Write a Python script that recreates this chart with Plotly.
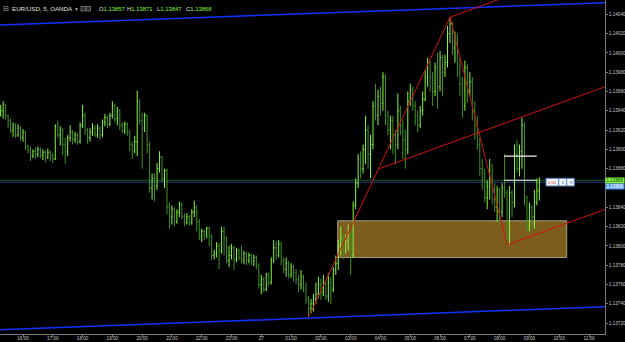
import pandas as pd
import plotly.graph_objects as go

# ---------------- data (EUR/USD, 5 min, OANDA) ----------------
times = pd.date_range("2015-05-26 15:15", periods=218, freq="5min")

opens = [
    1.13936, 1.13940, 1.13946, 1.13935, 1.13930, 1.13920, 1.13925, 1.13915, 1.13922, 1.13912,
    1.13918, 1.13903, 1.13899, 1.13893, 1.13898, 1.13895, 1.13900, 1.13894, 1.13897, 1.13892,
    1.13897, 1.13894, 1.13890, 1.13924, 1.13915, 1.13920, 1.13905, 1.13898, 1.13912, 1.13918,
    1.13910, 1.13915, 1.13908, 1.13925, 1.13935, 1.13920, 1.13912, 1.13918, 1.13922, 1.13915,
    1.13922, 1.13915, 1.13928, 1.13933, 1.13926, 1.13935, 1.13945, 1.13932, 1.13940, 1.13925,
    1.13920, 1.13926, 1.13918, 1.13905, 1.13898, 1.13908, 1.13950, 1.13930, 1.13922, 1.13935,
    1.13905, 1.13860, 1.13870, 1.13862, 1.13880, 1.13892, 1.13870, 1.13878, 1.13840, 1.13830,
    1.13838, 1.13825, 1.13835, 1.13843, 1.13830, 1.13824, 1.13830, 1.13824, 1.13835, 1.13840,
    1.13825, 1.13810, 1.13815, 1.13812, 1.13818, 1.13810, 1.13790, 1.13792, 1.13800, 1.13795,
    1.13815, 1.13808, 1.13785, 1.13790, 1.13798, 1.13786, 1.13795, 1.13788, 1.13785, 1.13792,
    1.13785, 1.13790, 1.13784, 1.13788, 1.13780, 1.13760, 1.13765, 1.13755, 1.13770, 1.13762,
    1.13785, 1.13798, 1.13790, 1.13802, 1.13785, 1.13776, 1.13782, 1.13770, 1.13778, 1.13772,
    1.13765, 1.13760, 1.13768, 1.13755, 1.13745, 1.13735, 1.13740, 1.13745, 1.13750, 1.13760,
    1.13752, 1.13760, 1.13748, 1.13762, 1.13755, 1.13775, 1.13782, 1.13800, 1.13808, 1.13795,
    1.13805, 1.13812, 1.13790, 1.13842, 1.13865, 1.13890, 1.13880, 1.13900, 1.13920, 1.13895,
    1.13905, 1.13945, 1.13935, 1.13955, 1.13948, 1.13975, 1.13935, 1.13920, 1.13930, 1.13915,
    1.13905, 1.13940, 1.13925, 1.13910, 1.13900, 1.13950, 1.13962, 1.13945, 1.13935, 1.13925,
    1.13940, 1.13952, 1.13975, 1.13990, 1.13975, 1.13960, 1.13985, 1.13965, 1.13995, 1.13980,
    1.13990, 1.14020, 1.14030, 1.14005, 1.14015, 1.13985, 1.13968, 1.13945, 1.13985, 1.13960,
    1.13970, 1.13940, 1.13925, 1.13905, 1.13880, 1.13875, 1.13850, 1.13862, 1.13870, 1.13848,
    1.13840, 1.13858, 1.13835, 1.13860, 1.13855, 1.13808, 1.13855, 1.13845, 1.13895, 1.13880,
    1.13898, 1.13925, 1.13850, 1.13820, 1.13840, 1.13830, 1.13845, 1.13857,
]

highs = [
    1.13946, 1.13950, 1.13947, 1.13936, 1.13932, 1.13928, 1.13927, 1.13926, 1.13924, 1.13921,
    1.13919, 1.13905, 1.13903, 1.13900, 1.13902, 1.13903, 1.13902, 1.13900, 1.13899, 1.13901,
    1.13899, 1.13896, 1.13926, 1.13930, 1.13924, 1.13922, 1.13912, 1.13915, 1.13925, 1.13920,
    1.13918, 1.13917, 1.13928, 1.13946, 1.13938, 1.13922, 1.13922, 1.13927, 1.13925, 1.13926,
    1.13924, 1.13931, 1.13937, 1.13935, 1.13938, 1.13950, 1.13947, 1.13944, 1.13942, 1.13928,
    1.13929, 1.13928, 1.13920, 1.13908, 1.13914, 1.13961, 1.13952, 1.13938, 1.13938, 1.13936,
    1.13908, 1.13875, 1.13875, 1.13886, 1.13898, 1.13893, 1.13880, 1.13880, 1.13845, 1.13842,
    1.13840, 1.13838, 1.13846, 1.13845, 1.13834, 1.13834, 1.13832, 1.13838, 1.13847, 1.13842,
    1.13828, 1.13818, 1.13817, 1.13820, 1.13820, 1.13812, 1.13796, 1.13804, 1.13803, 1.13820,
    1.13820, 1.13810, 1.13800, 1.13802, 1.13800, 1.13798, 1.13797, 1.13800, 1.13795, 1.13794,
    1.13793, 1.13792, 1.13791, 1.13790, 1.13782, 1.13770, 1.13768, 1.13772, 1.13772, 1.13788,
    1.13806, 1.13805, 1.13806, 1.13804, 1.13788, 1.13788, 1.13784, 1.13782, 1.13780, 1.13776,
    1.13770, 1.13775, 1.13770, 1.13762, 1.13748, 1.13745, 1.13750, 1.13762, 1.13768, 1.13766,
    1.13770, 1.13765, 1.13772, 1.13768, 1.13778, 1.13790, 1.13806, 1.13820, 1.13812, 1.13812,
    1.13822, 1.13815, 1.13846, 1.13870, 1.13895, 1.13898, 1.13905, 1.13935, 1.13925, 1.13915,
    1.13950, 1.13968, 1.13962, 1.13965, 1.13980, 1.13978, 1.13940, 1.13935, 1.13935, 1.13920,
    1.13958, 1.13945, 1.13930, 1.13920, 1.13960, 1.13968, 1.13965, 1.13950, 1.13940, 1.13945,
    1.13960, 1.13982, 1.13995, 1.13992, 1.13980, 1.13990, 1.14000, 1.14002, 1.13998, 1.13998,
    1.14028, 1.14037, 1.14032, 1.14022, 1.14020, 1.13995, 1.13975, 1.13992, 1.13988, 1.13980,
    1.13975, 1.13950, 1.13935, 1.13912, 1.13890, 1.13880, 1.13868, 1.13890, 1.13885, 1.13865,
    1.13862, 1.13860, 1.13865, 1.13895, 1.13858, 1.13862, 1.13858, 1.13905, 1.13910, 1.13905,
    1.13933, 1.13928, 1.13852, 1.13845, 1.13842, 1.13858, 1.13870, 1.13871,
]

lows = [
    1.13934, 1.13932, 1.13931, 1.13922, 1.13917, 1.13913, 1.13912, 1.13913, 1.13909, 1.13908,
    1.13899, 1.13896, 1.13888, 1.13891, 1.13890, 1.13892, 1.13891, 1.13889, 1.13887, 1.13890,
    1.13888, 1.13886, 1.13889, 1.13912, 1.13904, 1.13894, 1.13885, 1.13893, 1.13908, 1.13905,
    1.13907, 1.13905, 1.13906, 1.13922, 1.13915, 1.13906, 1.13908, 1.13914, 1.13913, 1.13912,
    1.13910, 1.13913, 1.13924, 1.13922, 1.13924, 1.13932, 1.13928, 1.13925, 1.13920, 1.13917,
    1.13916, 1.13914, 1.13898, 1.13890, 1.13896, 1.13893, 1.13926, 1.13880, 1.13918, 1.13896,
    1.13855, 1.13848, 1.13846, 1.13858, 1.13876, 1.13866, 1.13860, 1.13833, 1.13818, 1.13822,
    1.13820, 1.13823, 1.13830, 1.13828, 1.13820, 1.13822, 1.13821, 1.13822, 1.13830, 1.13815,
    1.13806, 1.13804, 1.13806, 1.13808, 1.13800, 1.13785, 1.13786, 1.13788, 1.13776, 1.13792,
    1.13790, 1.13782, 1.13778, 1.13786, 1.13775, 1.13783, 1.13785, 1.13782, 1.13781, 1.13780,
    1.13782, 1.13780, 1.13779, 1.13776, 1.13756, 1.13750, 1.13752, 1.13753, 1.13758, 1.13760,
    1.13782, 1.13786, 1.13788, 1.13780, 1.13772, 1.13768, 1.13766, 1.13767, 1.13763, 1.13760,
    1.13752, 1.13755, 1.13752, 1.13740, 1.13726, 1.13730, 1.13732, 1.13740, 1.13746, 1.13744,
    1.13748, 1.13744, 1.13742, 1.13740, 1.13752, 1.13770, 1.13775, 1.13790, 1.13786, 1.13792,
    1.13795, 1.13770, 1.13788, 1.13838, 1.13860, 1.13870, 1.13875, 1.13885, 1.13880, 1.13870,
    1.13900, 1.13930, 1.13925, 1.13935, 1.13940, 1.13925, 1.13915, 1.13900, 1.13895, 1.13885,
    1.13900, 1.13915, 1.13890, 1.13880, 1.13895, 1.13945, 1.13940, 1.13925, 1.13918, 1.13922,
    1.13935, 1.13950, 1.13965, 1.13960, 1.13945, 1.13955, 1.13942, 1.13960, 1.13955, 1.13975,
    1.13985, 1.14010, 1.13998, 1.13990, 1.13975, 1.13955, 1.13933, 1.13940, 1.13948, 1.13955,
    1.13930, 1.13910, 1.13900, 1.13872, 1.13858, 1.13845, 1.13838, 1.13848, 1.13843, 1.13835,
    1.13825, 1.13822, 1.13830, 1.13850, 1.13801, 1.13801, 1.13830, 1.13840, 1.13876, 1.13872,
    1.13880, 1.13842, 1.13815, 1.13815, 1.13815, 1.13818, 1.13842, 1.13847,
]

closes = [
    1.13940, 1.13946, 1.13935, 1.13930, 1.13920, 1.13925, 1.13915, 1.13922, 1.13912, 1.13918,
    1.13903, 1.13899, 1.13893, 1.13898, 1.13895, 1.13900, 1.13894, 1.13897, 1.13892, 1.13897,
    1.13894, 1.13890, 1.13924, 1.13915, 1.13920, 1.13905, 1.13898, 1.13912, 1.13918, 1.13910,
    1.13915, 1.13908, 1.13925, 1.13935, 1.13920, 1.13912, 1.13918, 1.13922, 1.13915, 1.13922,
    1.13915, 1.13928, 1.13933, 1.13926, 1.13935, 1.13945, 1.13932, 1.13940, 1.13925, 1.13920,
    1.13926, 1.13918, 1.13905, 1.13898, 1.13908, 1.13950, 1.13930, 1.13922, 1.13935, 1.13905,
    1.13860, 1.13870, 1.13862, 1.13880, 1.13892, 1.13870, 1.13878, 1.13840, 1.13830, 1.13838,
    1.13825, 1.13835, 1.13843, 1.13830, 1.13824, 1.13830, 1.13824, 1.13835, 1.13840, 1.13825,
    1.13810, 1.13815, 1.13812, 1.13818, 1.13810, 1.13790, 1.13792, 1.13800, 1.13795, 1.13815,
    1.13808, 1.13785, 1.13790, 1.13798, 1.13786, 1.13795, 1.13788, 1.13785, 1.13792, 1.13785,
    1.13790, 1.13784, 1.13788, 1.13780, 1.13760, 1.13765, 1.13755, 1.13770, 1.13762, 1.13785,
    1.13798, 1.13790, 1.13802, 1.13785, 1.13776, 1.13782, 1.13770, 1.13778, 1.13772, 1.13765,
    1.13760, 1.13768, 1.13755, 1.13745, 1.13735, 1.13740, 1.13745, 1.13750, 1.13760, 1.13752,
    1.13760, 1.13748, 1.13762, 1.13755, 1.13775, 1.13782, 1.13800, 1.13808, 1.13795, 1.13805,
    1.13812, 1.13790, 1.13842, 1.13865, 1.13890, 1.13880, 1.13900, 1.13920, 1.13895, 1.13905,
    1.13945, 1.13935, 1.13955, 1.13948, 1.13975, 1.13935, 1.13920, 1.13930, 1.13915, 1.13905,
    1.13940, 1.13925, 1.13910, 1.13900, 1.13950, 1.13962, 1.13945, 1.13935, 1.13925, 1.13940,
    1.13952, 1.13975, 1.13990, 1.13975, 1.13960, 1.13985, 1.13965, 1.13995, 1.13980, 1.13990,
    1.14020, 1.14030, 1.14005, 1.14015, 1.13985, 1.13968, 1.13945, 1.13985, 1.13960, 1.13970,
    1.13940, 1.13925, 1.13905, 1.13880, 1.13875, 1.13850, 1.13862, 1.13870, 1.13848, 1.13840,
    1.13858, 1.13835, 1.13860, 1.13855, 1.13808, 1.13855, 1.13845, 1.13895, 1.13880, 1.13898,
    1.13925, 1.13850, 1.13820, 1.13840, 1.13830, 1.13845, 1.13857, 1.13868,
]

x_tick_vals = list(pd.date_range("2015-05-26 16:00", "2015-05-27 11:00", freq="h"))
x_tick_text = ["16:00", "17:00", "18:00", "19:00", "20:00", "21:00", "22:00", "23:00",
               "27", "01:00", "02:00", "03:00", "04:00", "05:00", "06:00", "07:00",
               "08:00", "09:00", "10:00", "11:00"]
y_tick_vals = [1.13720, 1.13740, 1.13760, 1.13780, 1.13800, 1.13820, 1.13840,
               1.13880, 1.13900, 1.13920, 1.13940, 1.13960, 1.13980, 1.14000,
               1.14020, 1.14040]
y_tick_text = [f"{v:.5f}" for v in y_tick_vals]

header_symbol = "EUR/USD, 5, OANDA"
header_ohlc = [("O", "1.13857"), ("H", "1.13871"), ("L", "1.13847"), ("C", "1.13868")]
last_price = "1.13868"
ask_price = "1.13866"

# drawing-tool anchors (time, price)
X_START = pd.Timestamp("2015-05-26 15:13:40")
X_END = pd.Timestamp("2015-05-27 11:32:13")
zz_low1 = (pd.Timestamp("2015-05-27 01:35"), 1.13726)
zz_high = (pd.Timestamp("2015-05-27 06:20"), 1.14037)
zz_low2 = (pd.Timestamp("2015-05-27 08:15"), 1.13801)
fork_mid = (pd.Timestamp("2015-05-27 03:57:36"), 1.13880)
fork_slope = 0.000112  # price per hour
zone = (pd.Timestamp("2015-05-27 02:33:50"), pd.Timestamp("2015-05-27 10:15:04"), 1.13788, 1.13826)
chan_top = (1.14029, 1.14052)
chan_bot = (1.13713, 1.13737)

# ---------------- figure ----------------
W, H = 625, 342
PL, PR, PT, PB = 0, 605, 0, 334


def px(x):
    return (x - PL) / (PR - PL)


def py(y):
    return 1 - (y - PT) / (PB - PT)


def ext(pt):
    hrs = (X_END - pt[0]).total_seconds() / 3600
    return pt[1] + fork_slope * hrs


fig = go.Figure()
fig.add_trace(go.Ohlc(
    x=times, open=opens, high=highs, low=lows, close=closes,
    increasing=dict(line=dict(color="#86f73c", width=1)),
    decreasing=dict(line=dict(color="#3f9222", width=1)),
    tickwidth=0.35, hoverinfo="skip", showlegend=False,
))

shapes = []
# demand zone
shapes.append(dict(type="rect", xref="x", yref="y", x0=zone[0], x1=zone[1], y0=zone[2], y1=zone[3],
                   fillcolor="#7c5d1e", line=dict(color="#a59f86", width=1), layer="below"))
# current price lines
shapes.append(dict(type="line", xref="paper", yref="y", x0=0, x1=1, y0=1.13868, y1=1.13868,
                   line=dict(color="#23522a", width=1), layer="below"))
shapes.append(dict(type="line", xref="paper", yref="y", x0=0, x1=1, y0=1.13866, y1=1.13866,
                   line=dict(color="#22407e", width=1), layer="below"))
# blue channel
shapes.append(dict(type="line", xref="x", yref="y", x0=X_START, x1=X_END, y0=chan_top[0], y1=chan_top[1],
                   line=dict(color="#1432ff", width=1.5)))
shapes.append(dict(type="line", xref="x", yref="y", x0=X_START, x1=X_END, y0=chan_bot[0], y1=chan_bot[1],
                   line=dict(color="#1432ff", width=1.5)))
# red zigzag + pitchfork
red = dict(color="#d01212", width=1)
shapes.append(dict(type="line", xref="x", yref="y", x0=zz_low1[0], y0=zz_low1[1], x1=zz_high[0], y1=zz_high[1], line=red))
shapes.append(dict(type="line", xref="x", yref="y", x0=zz_high[0], y0=zz_high[1], x1=zz_low2[0], y1=zz_low2[1], line=red))
for pt in (zz_high, fork_mid, zz_low2):
    shapes.append(dict(type="line", xref="x", yref="y", x0=pt[0], y0=pt[1], x1=X_END, y1=ext(pt), line=red))
# white measure lines
for lvl in (1.13893, 1.13868):
    shapes.append(dict(type="line", xref="x", yref="y", x0=pd.Timestamp("2015-05-27 08:09:25"),
                       x1=pd.Timestamp("2015-05-27 09:14:35"), y0=lvl, y1=lvl,
                       line=dict(color="#f2f2f2", width=1.2)))
# small tool box
shapes.append(dict(type="rect", xref="paper", yref="paper", x0=px(546), x1=px(574.3), y0=py(186), y1=py(178.3),
                   fillcolor="#f4f6fa", line=dict(color="#4a7cc0", width=1)))
for xd in (558.7, 566.7):
    shapes.append(dict(type="line", xref="paper", yref="paper", x0=px(xd), x1=px(xd), y0=py(186), y1=py(178.3),
                       line=dict(color="#4a7cc0", width=1)))
# header icons
for x0 in (81, 86):
    shapes.append(dict(type="rect", xref="paper", yref="paper", x0=px(x0), x1=px(x0 + 4.5), y0=py(11), y1=py(6.5),
                       fillcolor="#2a2a2a", line=dict(color="#6a6a6a", width=1)))

ann = []
FONT = "Liberation Sans, Arial, sans-serif"
ann.append(dict(x=px(1), y=py(8.8), xref="paper", yref="paper", xanchor="left", yanchor="middle",
                text="⊟", showarrow=False, font=dict(size=7, color="#b0b0b0", family="DejaVu Sans")))
ann.append(dict(x=px(9.5), y=py(8.8), xref="paper", yref="paper", xanchor="left", yanchor="middle",
                text=header_symbol, showarrow=False, font=dict(size=6.2, color="#e0e0e0", family=FONT)))
ann.append(dict(x=px(73), y=py(8.8), xref="paper", yref="paper", xanchor="left", yanchor="middle",
                text="▾", showarrow=False, font=dict(size=5.5, color="#b0b0b0", family="DejaVu Sans")))
for (lab, val), xs in zip(header_ohlc, (96.5, 125, 154.5, 183.5)):
    ann.append(dict(x=px(xs), y=py(8.8), xref="paper", yref="paper", xanchor="left", yanchor="middle",
                    text=f"{lab}<span style='color:#7dfb34'>{val}</span>", showarrow=False,
                    font=dict(size=5.9, color="#e0e0e0", family=FONT)))
# right price labels
ann.append(dict(x=px(615), y=py(180.6), xref="paper", yref="paper", xanchor="center", yanchor="middle",
                text=last_price, showarrow=False, bgcolor="#84f744", width=18, height=4.6, borderpad=0,
                font=dict(size=4.6, color="#1a3a10", family=FONT)))
ann.append(dict(x=px(615), y=py(186.4), xref="paper", yref="paper", xanchor="center", yanchor="middle",
                text=ask_price, showarrow=False, bgcolor="#5f9ff0", width=18, height=4.6, borderpad=0,
                font=dict(size=4.6, color="#ffffff", family=FONT)))
# tool box texts
ann.append(dict(x=px(552.3), y=py(182.2), xref="paper", yref="paper", xanchor="center", yanchor="middle",
                text="0.00", showarrow=False, font=dict(size=4.2, color="#d04040", family=FONT)))
ann.append(dict(x=px(562.7), y=py(182.2), xref="paper", yref="paper", xanchor="center", yanchor="middle",
                text="↕", showarrow=False, font=dict(size=4.5, color="#3060b0", family="DejaVu Sans")))
ann.append(dict(x=px(570.5), y=py(182.2), xref="paper", yref="paper", xanchor="center", yanchor="middle",
                text="×", showarrow=False, font=dict(size=5, color="#3060b0", family="DejaVu Sans")))

fig.update_layout(
    width=W, height=H,
    margin=dict(l=PL, r=W - PR, t=PT, b=H - PB, pad=0),
    paper_bgcolor="#000000", plot_bgcolor="#000000",
    showlegend=False, hovermode=False,
    shapes=shapes, annotations=ann,
    xaxis=dict(
        type="date", range=[X_START, X_END], rangeslider=dict(visible=False),
        tickvals=x_tick_vals, ticktext=x_tick_text, tickangle=0,
        tickfont=dict(size=4.6, color="#c8c8c8", family=FONT),
        showgrid=False, zeroline=False, showline=True, linecolor="#7a7a7a", linewidth=1,
        mirror=True, ticks="outside", ticklen=2, tickcolor="#7a7a7a", automargin=False,
        ticklabelstandoff=-3,
    ),
    yaxis=dict(
        side="right", range=[1.137087, 1.140548],
        tickvals=y_tick_vals, ticktext=y_tick_text,
        tickfont=dict(size=4.6, color="#c8c8c8", family=FONT),
        showgrid=False, zeroline=False, showline=True, linecolor="#7a7a7a", linewidth=1,
        ticks="outside", ticklen=2, tickcolor="#7a7a7a", automargin=False,
    ),
)

fig.write_html("out.html")
